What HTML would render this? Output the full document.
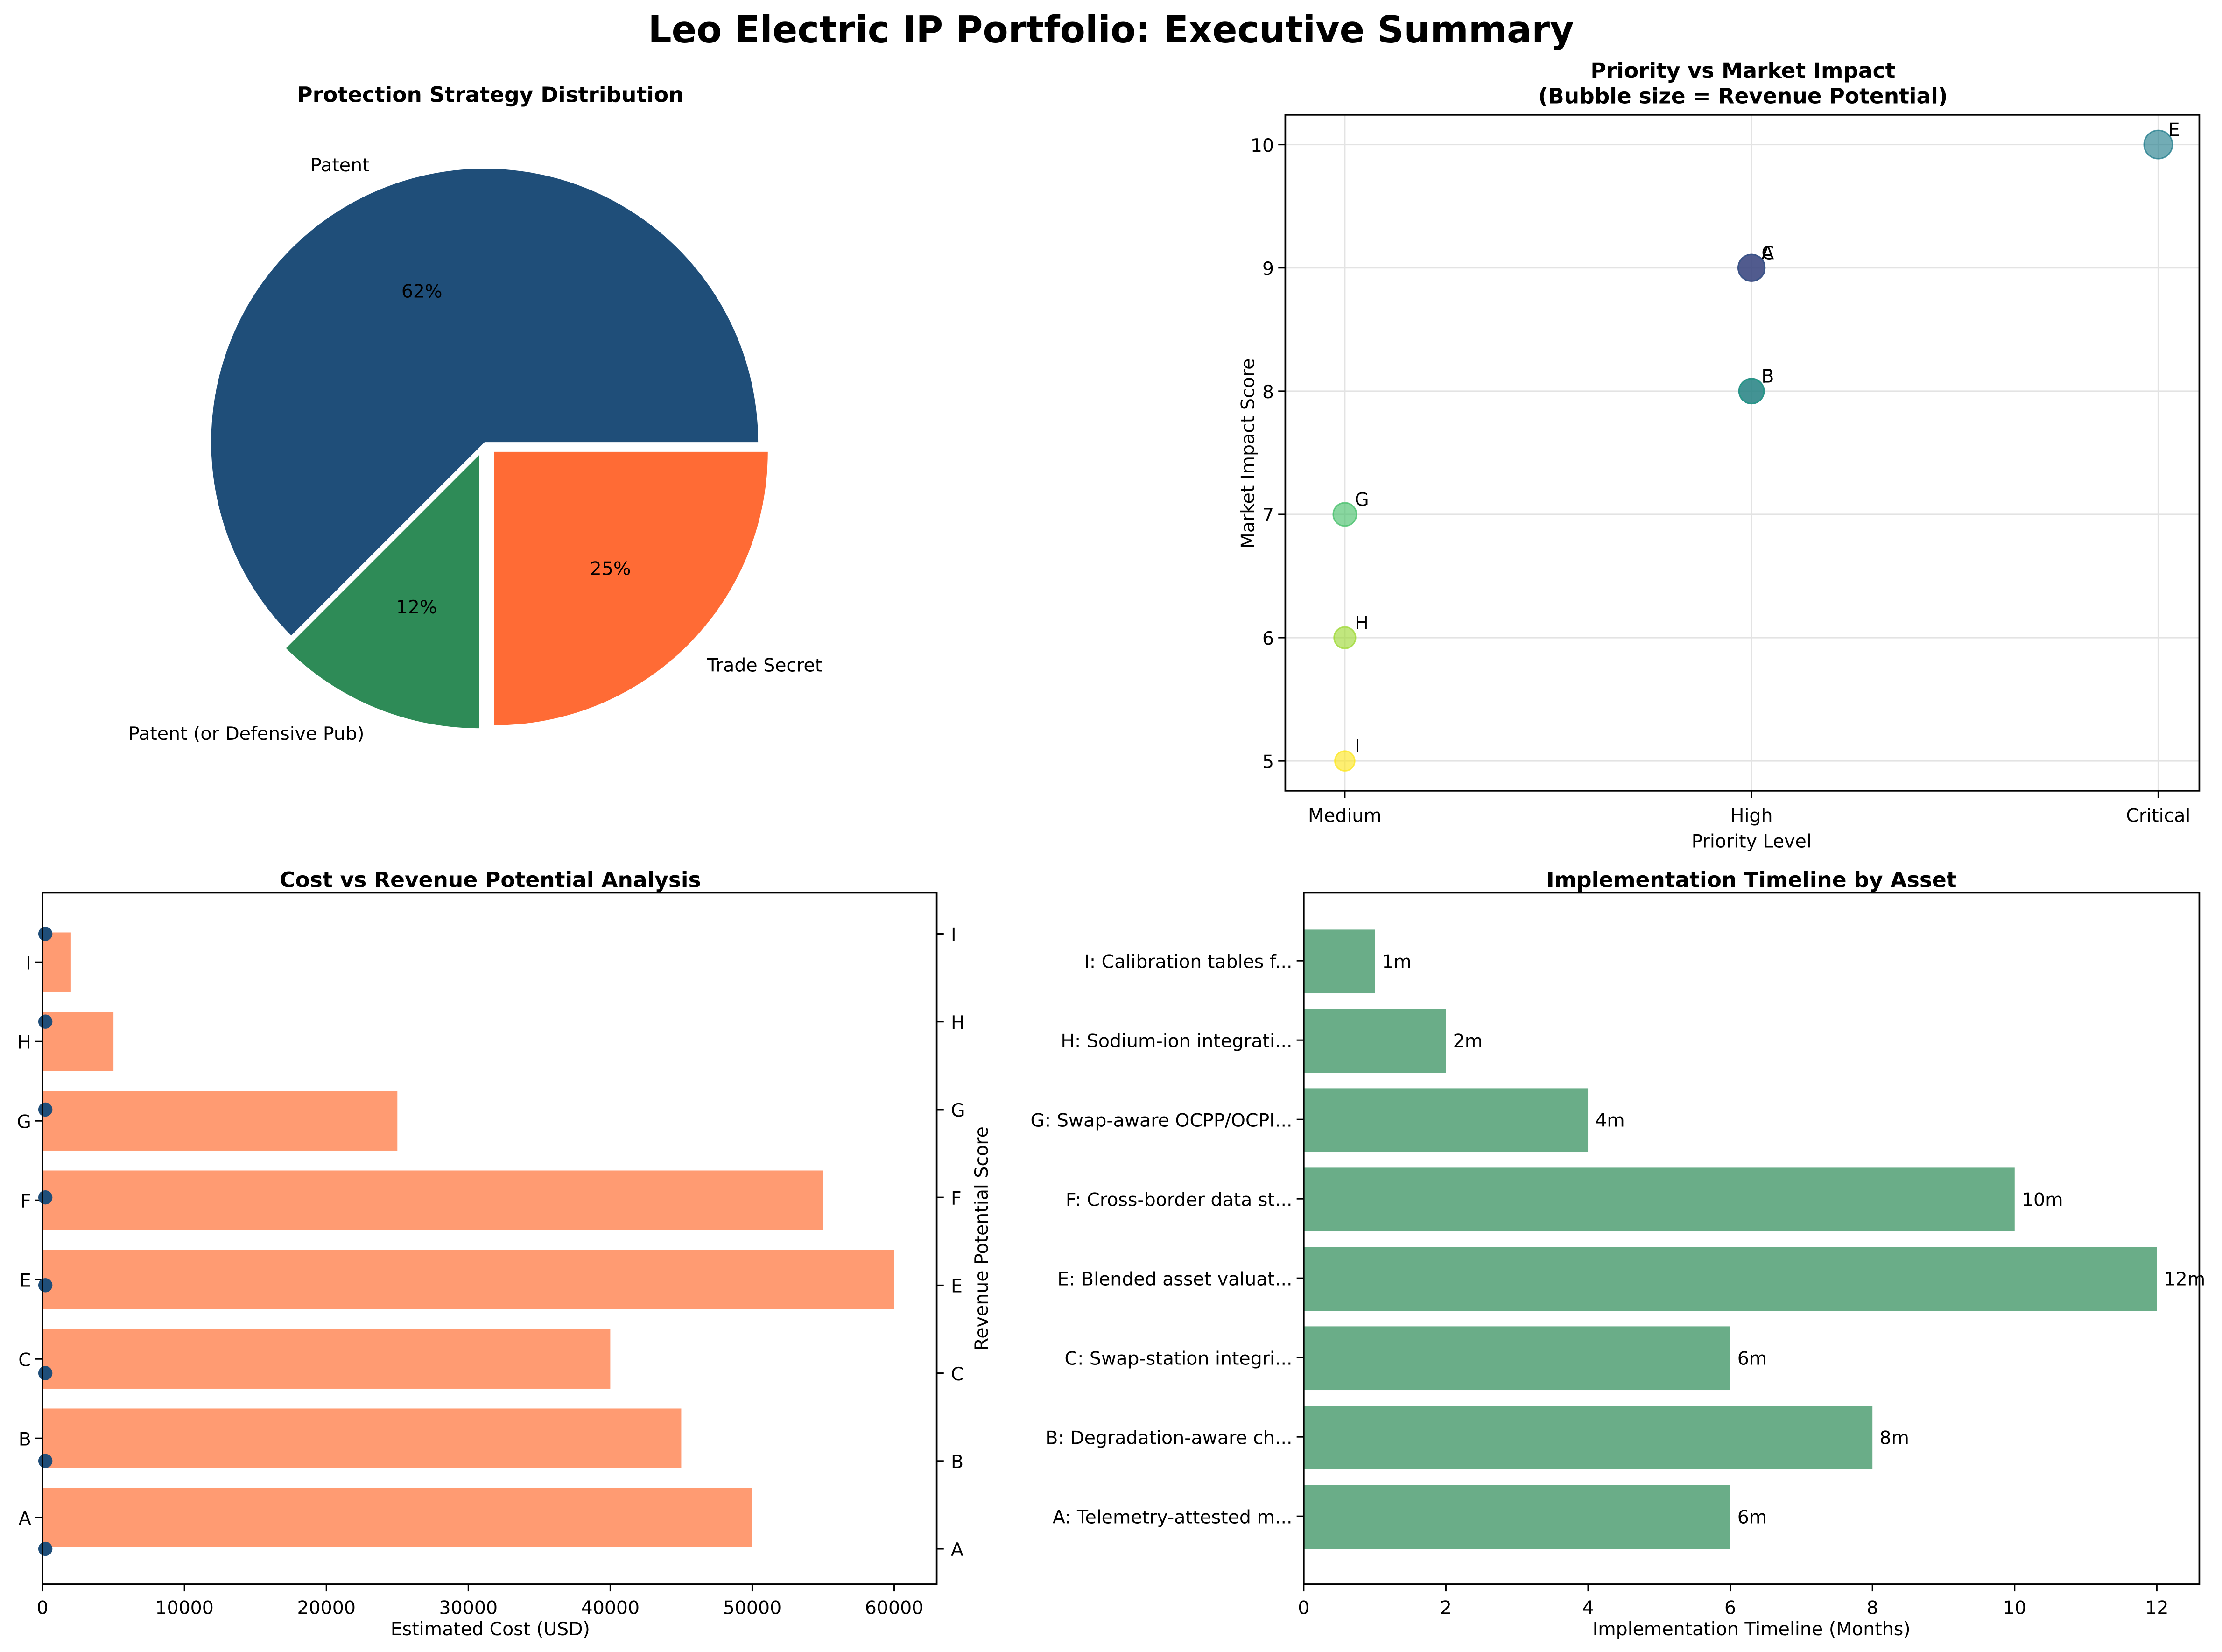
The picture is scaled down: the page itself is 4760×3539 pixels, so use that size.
<!DOCTYPE html>
<html><head><meta charset="utf-8"><style>
html,body{margin:0;padding:0;background:#fff}
svg{display:block;font-family:"DejaVu Sans","Liberation Sans",sans-serif}
</style></head><body>
<svg id="c" width="4760" height="3539" viewBox="0 0 1568 1165.8" preserveAspectRatio="none" xmlns="http://www.w3.org/2000/svg">
<rect width="1568" height="1166" fill="#fff"/>
<text x="784" y="30" font-size="26" font-weight="bold" text-anchor="middle">Leo Electric IP Portfolio: Executive Summary</text>
<g id="pie"></g>
<g id="sc"></g>
<g id="cost"></g>
<g id="tl"></g>
</svg>
<script>
// ---- data ----
const pieLabels=["Patent","Patent (or Defensive Pub)","Trade Secret"];
const pieValues=[5,1,2];
const pieColors=["#1f4e79","#2e8b57","#ff6b35"];
const pieExplode=[0,0.05,0.05];

const scIds=["A","B","C","E","F","G","H","I"];
const scPriority=[1,1,1,2,1,0,0,0];
const scImpact=[9,8,9,10,8,7,6,5];
const scRevenue=[9,8,9,10,8,7,6,5];
const scColors=["#440154","#46327e","#365c8d","#277f8e","#1fa187","#4ac16d","#a0da39","#fde725"];
const priorityTicks=["Medium","High","Critical"];
const impactTicks=[5,6,7,8,9,10];

const costIds=["A","B","C","E","F","G","H","I"];
const costValues=[50000,45000,40000,60000,55000,25000,5000,2000];
const revScores=[0,0,0,0,0,0,0,0];
const costTicks=[0,10000,20000,30000,40000,50000,60000];

const tlLabels=["A: Telemetry-attested m...","B: Degradation-aware ch...","C: Swap-station integri...","E: Blended asset valuat...","F: Cross-border data st...","G: Swap-aware OCPP/OCPI...","H: Sodium-ion integrati...","I: Calibration tables f..."];
const tlValues=[6,8,6,12,10,4,2,1];
const tlTicks=[0,2,4,6,8,10,12];

const NS="http://www.w3.org/2000/svg";
function mk(p,t,a,txt){const e=document.createElementNS(NS,t);for(const k in a)e.setAttribute(k,a[k]);if(txt!==undefined)e.textContent=txt;p.appendChild(e);return e;}
function roundEven(x){const f=Math.floor(x),d=x-f;if(Math.abs(d-0.5)<1e-9)return f%2===0?f:f+1;return Math.round(x);}

// ---- pie ----
(function(){
const g=document.getElementById('pie');
mk(g,'text',{x:346,y:72,'font-size':15,'font-weight':'bold','text-anchor':'middle',},'Protection Strategy Distribution');
const cx=342,cy=312,r=193,tot=pieValues.reduce((a,b)=>a+b,0);
let a0=0;
pieValues.forEach((v,i)=>{
 const a1=a0+v/tot*2*Math.PI, mid=(a0+a1)/2;
 const ox=cx+Math.cos(mid)*pieExplode[i]*r, oy=cy-Math.sin(mid)*pieExplode[i]*r;
 const x0=ox+r*Math.cos(a0),y0=oy-r*Math.sin(a0),x1=ox+r*Math.cos(a1),y1=oy-r*Math.sin(a1);
 const large=(a1-a0)>Math.PI?1:0;
 const s=mk(g,'path',{d:`M${ox},${oy}L${x0},${y0}A${r},${r} 0 ${large} 0 ${x1},${y1}Z`,fill:pieColors[i]});
 
 
 const pt=mk(g,'text',{x:ox+Math.cos(mid)*0.6*r,y:oy-Math.sin(mid)*0.6*r+5,'font-size':13,'text-anchor':'middle'},roundEven(v/tot*100)+'%');
 
 
 const lx=ox+Math.cos(mid)*1.1*r, ly=oy-Math.sin(mid)*1.1*r+5;
 const lt=mk(g,'text',{x:lx,y:ly,'font-size':13,'text-anchor':Math.cos(mid)>0.1?'start':(Math.cos(mid)<-0.1?'end':'middle')},pieLabels[i]);
 
 
 a0=a1;
});
})();

// ---- scatter ----
(function(){
const g=document.getElementById('sc');
const L=907,R=1552,T=81,B=558;
const X=p=>949+p*287, Y=v=>537-(v-5)*87;
mk(g,'text',{x:1230,y:55,'font-size':15,'font-weight':'bold','text-anchor':'middle'},'Priority vs Market Impact');
mk(g,'text',{x:1230,y:73,'font-size':15,'font-weight':'bold','text-anchor':'middle'},'(Bubble size = Revenue Potential)');
priorityTicks.forEach((t,i)=>{mk(g,'line',{x1:X(i),x2:X(i),y1:T,y2:B,stroke:'#e3e3e3'});mk(g,'line',{x1:X(i),x2:X(i),y1:B,y2:B+5,stroke:'#000'});
 const e=mk(g,'text',{x:X(i),y:B+22,'font-size':13,'text-anchor':'middle'},t);});
impactTicks.forEach(t=>{mk(g,'line',{x1:L,x2:R,y1:Y(t),y2:Y(t),stroke:'#e3e3e3'});mk(g,'line',{x1:L-5,x2:L,y1:Y(t),y2:Y(t),stroke:'#000'});
 mk(g,'text',{x:L-8,y:Y(t)+5,'font-size':13,'text-anchor':'end'},t);});
mk(g,'rect',{x:L,y:T,width:R-L,height:B-T,fill:'none',stroke:'#000','stroke-width':1.2});
scIds.forEach((id,i)=>{
 const c=mk(g,'circle',{cx:X(scPriority[i]),cy:Y(scImpact[i]),r:4+scRevenue[i]*0.6,fill:scColors[i],'fill-opacity':0.65,stroke:scColors[i],'stroke-opacity':0.8});
 
 
 const t=mk(g,'text',{x:X(scPriority[i])+7,y:Y(scImpact[i])-6,'font-size':13},id);
 
 
});
mk(g,'text',{x:1236,y:598,'font-size':13,'text-anchor':'middle'},'Priority Level');
mk(g,'text',{x:885,y:320,'font-size':13,'text-anchor':'middle',transform:'rotate(-90 885 320)'},'Market Impact Score');
})();

// ---- cost ----
(function(){
const g=document.getElementById('cost');
const L=30,R=661,T=630,B=1118;
const X=v=>L+v/60000*601, Y=i=>1071-i*56;
mk(g,'text',{x:346,y:626,'font-size':15,'font-weight':'bold','text-anchor':'middle'},'Cost vs Revenue Potential Analysis');
costIds.forEach((id,i)=>{
 const b=mk(g,'rect',{x:L,y:Y(i)-21,width:X(costValues[i])-L,height:42,fill:'#ff9b72'});
 
 
 mk(g,'line',{x1:L-5,x2:L,y1:Y(i),y2:Y(i),stroke:'#000'});
 mk(g,'text',{x:L-8,y:Y(i)+5,'font-size':13,'text-anchor':'end'},id);
 const ry=1093-i*62;
 mk(g,'line',{x1:R,x2:R+5,y1:ry,y2:ry,stroke:'#000'});
 mk(g,'text',{x:R+10,y:ry+5,'font-size':13},id);
 const d=mk(g,'circle',{cx:X(revScores[i])+2,cy:ry,r:5,fill:'#1f4e79'});
 
 
});
costTicks.forEach(t=>{mk(g,'line',{x1:X(t),x2:X(t),y1:B,y2:B+5,stroke:'#000'});mk(g,'text',{x:X(t),y:B+21,'font-size':13,'text-anchor':'middle'},t);});
mk(g,'rect',{x:L,y:T,width:R-L,height:B-T,fill:'none',stroke:'#000','stroke-width':1.2});
mk(g,'text',{x:346,y:1154,'font-size':13,'text-anchor':'middle'},'Estimated Cost (USD)');
mk(g,'text',{x:697,y:874,'font-size':13,'text-anchor':'middle',transform:'rotate(-90 697 874)'},'Revenue Potential Score');
})();

// ---- timeline ----
(function(){
const g=document.getElementById('tl');
const L=920,R=1552,T=630,B=1118;
const X=v=>L+v/12*602, Y=i=>1070-i*56;
mk(g,'text',{x:1236,y:626,'font-size':15,'font-weight':'bold','text-anchor':'middle'},'Implementation Timeline by Asset');
tlLabels.forEach((lab,i)=>{
 const b=mk(g,'rect',{x:L,y:Y(i)-22,width:X(tlValues[i])-L,height:45,fill:'#6aad88'});
 
 
 mk(g,'line',{x1:L-5,x2:L,y1:Y(i),y2:Y(i),stroke:'#000'});
 mk(g,'text',{x:L-8,y:Y(i)+5,'font-size':13,'text-anchor':'end'},lab);
 mk(g,'text',{x:X(tlValues[i])+5,y:Y(i)+5,'font-size':13},tlValues[i]+'m');
});
tlTicks.forEach(t=>{mk(g,'line',{x1:X(t),x2:X(t),y1:B,y2:B+5,stroke:'#000'});mk(g,'text',{x:X(t),y:B+21,'font-size':13,'text-anchor':'middle'},t);});
mk(g,'rect',{x:L,y:T,width:R-L,height:B-T,fill:'none',stroke:'#000','stroke-width':1.2});
mk(g,'text',{x:1236,y:1154,'font-size':13,'text-anchor':'middle'},'Implementation Timeline (Months)');
})();
</script>
</body></html>
